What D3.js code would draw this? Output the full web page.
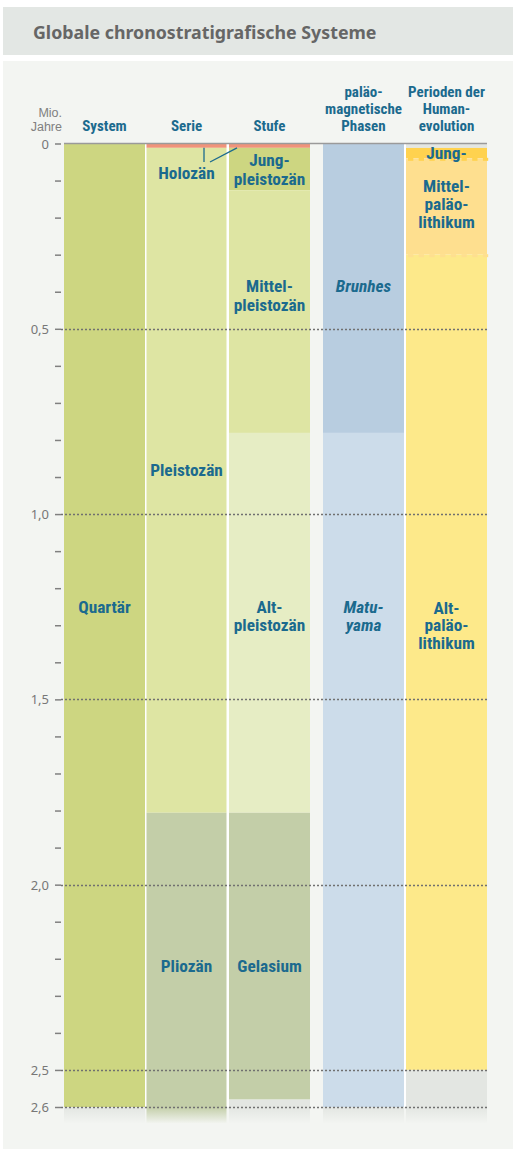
<!DOCTYPE html>
<html><head><meta charset="utf-8">
<script src="https://cdn.jsdelivr.net/npm/d3@7"></script>
<style>
html,body{margin:0;padding:0;background:#fff;}
svg{display:block;}
</style></head>
<body>
<svg id="c" width="513" height="1149"></svg>
<script>
// ---------- DATA ----------
const title = "Globale chronostratigrafische Systeme";
const axisTitle = ["Mio.", "Jahre"];
const minorTicks = d3.range(0, 27).map(i => i / 10);
const majorTicks = [0, 0.5, 1.0, 1.5, 2.0, 2.5, 2.6];
const majorLabels = ["0", "0,5", "1,0", "1,5", "2,0", "2,5", "2,6"];

const columnKeys = ["system", "serie", "stufe", "magnet", "human"];
const columnHeaders = [["System"], ["Serie"], ["Stufe"], ["paläo-", "magnetische", "Phasen"], ["Perioden der", "Human-", "evolution"]];

// units: start/end in Ma, fill, label lines, label centre in Ma
const systemUnits = [
  {name: "Quartär", from: 0, to: 2.6, fill: "#cdd681", lines: ["Quartär"], at: 1.25}
];
const serieUnits = [
  {name: "Holozän", from: 0, to: 0.0117, fill: "#f0937a", lines: [], at: null},
  {name: "Pleistozän", from: 0.0117, to: 1.806, fill: "#dee5a3", lines: ["Pleistozän"], at: 0.88},
  {name: "Pliozän", from: 1.806, to: 2.6, fill: "#c3cea8", lines: ["Pliozän"], at: 2.22}
];
const stufeUnits = [
  {name: "Holozän", from: 0, to: 0.0117, fill: "#f0937a", lines: [], at: null},
  {name: "Jungpleistozän", from: 0.0117, to: 0.126, fill: "#cdd681", lines: ["Jung-", "pleistozän"], at: 0.07},
  {name: "Mittelpleistozän", from: 0.126, to: 0.781, fill: "#dee5a3", lines: ["Mittel-", "pleistozän"], at: 0.41},
  {name: "Altpleistozän", from: 0.781, to: 1.806, fill: "#e6edc4", lines: ["Alt-", "pleistozän"], at: 1.275},
  {name: "Gelasium", from: 1.806, to: 2.58, fill: "#c3cea8", lines: ["Gelasium"], at: 2.22},
  {name: "", from: 2.58, to: 2.6, fill: "#e3e6e2", lines: [], at: null}
];
const magnetUnits = [
  {name: "Brunhes", from: 0, to: 0.781, fill: "#b8cde0", lines: ["Brunhes"], at: 0.385, italic: true},
  {name: "Matuyama", from: 0.781, to: 2.6, fill: "#ccdcea", lines: ["Matu-", "yama"], at: 1.275, italic: true}
];
const humanUnits = [
  {name: "", from: 0, to: 0.012, fill: "#e3e6e2", lines: [], at: null},
  {name: "Jungpaläolithikum", from: 0.012, to: 0.04, fill: "#ffd24f", lines: ["Jung-"], at: 0.026},
  {name: "Mittelpaläolithikum", from: 0.04, to: 0.3, fill: "#fedf8f", lines: ["Mittel-", "paläo-", "lithikum"], at: 0.163},
  {name: "Altpaläolithikum", from: 0.3, to: 2.5, fill: "#fde98a", lines: ["Alt-", "paläo-", "lithikum"], at: 1.3},
  {name: "", from: 2.5, to: 2.6, fill: "#e3e6e2", lines: [], at: null}
];
const unitsByColumn = {system: systemUnits, serie: serieUnits, stufe: stufeUnits, magnet: magnetUnits, human: humanUnits};
const fadeColours = {system: "#e3e6e2", serie: "#c3cea8", stufe: "#e3e6e2", magnet: "#e3e6e2", human: "#e3e6e2"};
const notchedBoundaries = [0.04, 0.3]; // human column, serrated edges
const holoceneLabel = {text: "Holozän", at: 0.08};

// ---------- LAYOUT ----------
const svg = d3.select("#c");
const textBlue = "#1b6a8e";
const font = "'Liberation Sans Narrow','Roboto Condensed','Noto Sans',sans-serif";

svg.append("rect").attr("x", 3).attr("y", 7).attr("width", 510).attr("height", 48).attr("fill", "#e3e7e4");
svg.append("rect").attr("x", 3).attr("y", 61).attr("width", 510).attr("height", 1088).attr("fill", "#f3f5f2");
svg.append("text").attr("x", 33).attr("y", 39).text(title)
  .attr("font-family", "'Noto Sans',sans-serif").attr("font-weight", 700).attr("font-size", 17.8).attr("fill", "#666");

const y = d3.scaleLinear().domain([0, 2.6]).range([143.5, 1107]);
const fadeEnd = 2.645;
const colX = d3.scaleOrdinal().domain(columnKeys).range([64, 146.5, 229, 323, 406]);
const colW = d3.scaleOrdinal().domain(columnKeys).range([81, 80, 81, 81, 81]);

// white backing behind the column groups
svg.append("rect").attr("x", colX("system")).attr("y", y(0)).attr("width", colX("stufe") + colW("stufe") - colX("system")).attr("height", y(2.6) - y(0)).attr("fill", "#fff");
svg.append("rect").attr("x", colX("magnet")).attr("y", y(0)).attr("width", colX("human") + colW("human") - colX("magnet")).attr("height", y(2.6) - y(0)).attr("fill", "#fff");

const defs = svg.append("defs");
columnKeys.forEach(k => {
  const g = defs.append("linearGradient").attr("id", "fade-" + k).attr("x1", 0).attr("x2", 0).attr("y1", 0).attr("y2", 1);
  g.append("stop").attr("offset", 0).attr("stop-color", fadeColours[k]).attr("stop-opacity", 1);
  g.append("stop").attr("offset", 1).attr("stop-color", fadeColours[k]).attr("stop-opacity", 0);
});

columnKeys.forEach(k => {
  const g = svg.append("g");
  g.selectAll("rect.u").data(unitsByColumn[k]).join("rect")
    .attr("x", colX(k)).attr("width", colW(k))
    .attr("y", d => y(d.from)).attr("height", d => y(d.to) - y(d.from))
    .attr("fill", d => d.fill);
  g.append("rect").attr("x", colX(k)).attr("width", colW(k))
    .attr("y", y(2.6)).attr("height", y(fadeEnd) - y(2.6)).attr("fill", `url(#fade-${k})`);
});

// serrated boundaries in the human column
notchedBoundaries.forEach(b => {
  const upper = humanUnits.find(u => u.to === b);
  const xs = d3.range(colX("human") + 2, colX("human") + colW("human") - 3, 10.7);
  svg.append("g").selectAll("rect").data(xs).join("rect")
    .attr("x", d => d).attr("width", 5.3)
    .attr("y", y(b) - 0.5).attr("height", 3)
    .attr("fill", upper.fill);
});

// top line
svg.append("line").attr("x1", colX("system")).attr("x2", colX("human") + colW("human"))
  .attr("y1", y(0)).attr("y2", y(0)).attr("stroke", "#9a9a9a").attr("stroke-width", 1.5);

// gridlines (dotted)
svg.append("g").selectAll("line").data(majorTicks.filter(d => d > 0)).join("line")
  .attr("x1", 61).attr("x2", colX("human") + colW("human"))
  .attr("y1", d => Math.round(y(d)) + 0.5).attr("y2", d => Math.round(y(d)) + 0.5)
  .attr("stroke", "#707070").attr("stroke-width", 1.6).attr("stroke-dasharray", "2,2");

// axis
const axis = d3.axisLeft(y).tickValues(minorTicks).tickSize(6).tickPadding(6)
  .tickFormat(d => { const i = majorTicks.findIndex(m => Math.abs(m - d) < 1e-9); return i >= 0 ? majorLabels[i] : ""; });
const ax = svg.append("g").attr("transform", "translate(61,0)").call(axis);
ax.select(".domain").remove();
ax.selectAll(".tick line").attr("stroke", "#808080").attr("stroke-width", 1.5);
ax.selectAll(".tick text").attr("fill", "#777").attr("font-size", 13).attr("font-family", "'Noto Sans',sans-serif").attr("dy", "0.35em");

// axis title
svg.append("g").selectAll("text").data(axisTitle).join("text")
  .attr("x", 62).attr("y", (d, i) => 116.5 + i * 14.5).attr("text-anchor", "end")
  .attr("font-family", "'Liberation Sans',sans-serif").attr("font-size", 12.5).attr("fill", "#808080").text(d => d);

// column headers
columnKeys.forEach((k, i) => {
  const lines = columnHeaders[i];
  svg.append("g").selectAll("text").data(lines).join("text")
    .attr("x", colX(k) + colW(k) / 2)
    .attr("y", (d, j) => 131 - (lines.length - 1 - j) * 17)
    .attr("text-anchor", "middle").attr("font-family", font).attr("font-weight", 700)
    .attr("font-size", 15).attr("fill", textBlue).text(d => d);
});

// unit labels
const lh = 18.5;
columnKeys.forEach(k => {
  unitsByColumn[k].filter(u => u.lines.length).forEach(u => {
    const n = u.lines.length;
    const l = n === 3 ? 17.8 : lh;
    svg.append("g").selectAll("text").data(u.lines).join("text")
      .attr("x", colX(k) + colW(k) / 2)
      .attr("y", (d, j) => y(u.at) + (j - (n - 1) / 2) * l)
      .attr("dy", "0.36em")
      .attr("text-anchor", "middle").attr("font-family", font).attr("font-weight", 700)
      .attr("font-style", u.italic ? "italic" : "normal")
      .attr("font-size", 17.3).attr("fill", textBlue).text(d => d);
  });
});

// Holozän label with leader lines
const hx = colX("serie") + colW("serie") / 2;
svg.append("text").attr("x", hx).attr("y", y(holoceneLabel.at)).attr("dy", "0.36em")
  .attr("text-anchor", "middle").attr("font-family", font).attr("font-weight", 700)
  .attr("font-size", 17.3).attr("fill", textBlue).text(holoceneLabel.text);
const lx = colX("serie") + 57.5;
svg.append("line").attr("x1", lx).attr("x2", lx).attr("y1", y(0.0117)).attr("y2", y(0.05))
  .attr("stroke", textBlue).attr("stroke-width", 1.3);
svg.append("line").attr("x1", lx + 6).attr("x2", colX("stufe") + 8).attr("y1", y(0.05)).attr("y2", y(0.0117))
  .attr("stroke", textBlue).attr("stroke-width", 1.3);
</script>
</body></html>
